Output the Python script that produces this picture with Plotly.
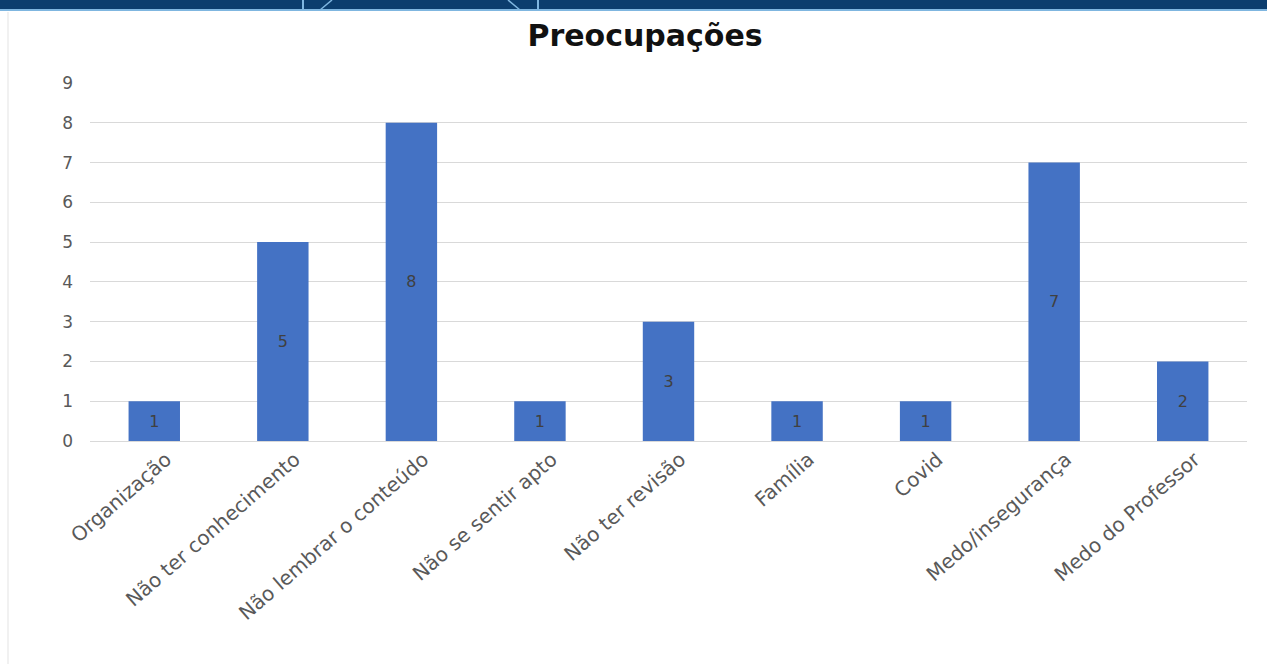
import plotly.graph_objects as go

categories = ["Organização", "Não ter conhecimento", "Não lembrar o conteúdo",
              "Não se sentir apto", "Não ter revisão", "Família", "Covid",
              "Medo/insegurança", "Medo do Professor"]
values = [1, 5, 8, 1, 3, 1, 1, 7, 2]
y_ticks = [0, 1, 2, 3, 4, 5, 6, 7, 8, 9]

W, H = 1267, 664
L, R, T, B = 90, 20, 83, 223
pw, ph = W - L - R, H - T - B

def px(x):
    return (x - L) / pw

def py(y):
    return (H - B - y) / ph

FONT = "DejaVu Sans"

fig = go.Figure(go.Bar(
    x=categories, y=values, width=0.4,
    marker=dict(color="#4472C4", line=dict(width=0)),
    text=[str(v) for v in values], textposition="inside",
    insidetextanchor="middle",
    textfont=dict(color="#404040", size=16, family=FONT),
    textangle=0,
))

shapes = [
    # top banner
    dict(type="rect", xref="paper", yref="paper", x0=px(0), x1=px(W), y0=py(9), y1=py(0),
         fillcolor="#0B3D6E", line=dict(width=0), layer="above"),
    dict(type="line", xref="paper", yref="paper", x0=px(0), x1=px(W), y0=py(10), y1=py(10),
         line=dict(color="#7FB6E0", width=2)),
    dict(type="line", xref="paper", yref="paper", x0=px(303), x1=px(303), y0=py(0), y1=py(10),
         line=dict(color="#7FB6E0", width=2)),
    dict(type="line", xref="paper", yref="paper", x0=px(538), x1=px(538), y0=py(0), y1=py(10),
         line=dict(color="#7FB6E0", width=2)),
    dict(type="line", xref="paper", yref="paper", x0=px(320), x1=px(332), y0=py(10), y1=py(0),
         line=dict(color="#7FB6E0", width=1.5)),
    dict(type="line", xref="paper", yref="paper", x0=px(508), x1=px(520), y0=py(0), y1=py(10),
         line=dict(color="#7FB6E0", width=1.5)),
    # left border
    dict(type="line", xref="paper", yref="paper", x0=px(8), x1=px(8), y0=py(12), y1=py(H),
         line=dict(color="#E3E3E3", width=1)),
]

fig.update_layout(
    width=W, height=H,
    margin=dict(l=L, r=R, t=T, b=B),
    paper_bgcolor="white", plot_bgcolor="white",
    showlegend=False,
    bargap=0.6,
    title=dict(text="<b>Preocupações</b>", x=645 / W, xanchor="center",
               y=1 - 35 / H, yanchor="middle",
               font=dict(size=30, color="#111111", family=FONT)),
    xaxis=dict(tickangle=-41, tickfont=dict(size=20, color="#595959", family=FONT),
               showgrid=False, showline=False, ticks="", automargin=False,
               ticklabelshift=12, ticklabelstandoff=2),
    yaxis=dict(range=[0, 9], tickvals=y_ticks, showgrid=True, gridcolor="#D9D9D9",
               gridwidth=1, zeroline=True, zerolinecolor="#D9D9D9", zerolinewidth=1,
               tickfont=dict(size=17, color="#595959", family=FONT),
               ticks="", ticklabelstandoff=16, automargin=False),
    shapes=shapes,
    font=dict(family=FONT),
)

fig.write_html("out.html")
